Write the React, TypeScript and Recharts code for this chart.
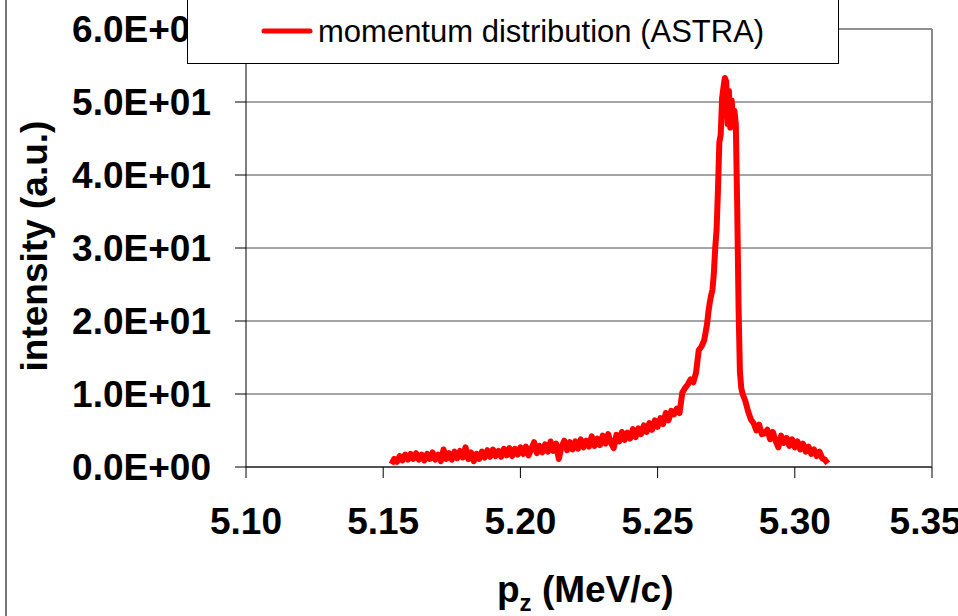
import { LineChart, Line, XAxis, YAxis, CartesianGrid, Legend, ReferenceLine, Label } from 'recharts';

const pz = [
  5.153, 5.154, 5.155, 5.156, 5.157, 5.158, 5.159, 5.16, 5.161, 5.162, 5.163, 5.164, 5.165, 5.166, 5.167, 5.168, 5.169,
  5.17, 5.171, 5.172, 5.173, 5.174, 5.175, 5.176, 5.177, 5.178, 5.179, 5.18, 5.181, 5.182, 5.183, 5.184, 5.185, 5.186,
  5.187, 5.188, 5.189, 5.19, 5.191, 5.192, 5.193, 5.194, 5.195, 5.196, 5.197, 5.198, 5.199, 5.2, 5.201, 5.202, 5.203,
  5.204, 5.205, 5.206, 5.207, 5.208, 5.209, 5.21, 5.211, 5.212, 5.213, 5.214, 5.215, 5.216, 5.217, 5.218, 5.219, 5.22,
  5.221, 5.222, 5.223, 5.224, 5.225, 5.226, 5.227, 5.228, 5.229, 5.23, 5.231, 5.232, 5.233, 5.234, 5.235, 5.236, 5.237,
  5.238, 5.239, 5.24, 5.241, 5.242, 5.243, 5.244, 5.245, 5.246, 5.247, 5.248, 5.249, 5.25, 5.251, 5.252, 5.253, 5.254,
  5.255, 5.256, 5.257, 5.258, 5.259, 5.26, 5.261, 5.262, 5.263, 5.264, 5.265, 5.266, 5.267, 5.268, 5.2685, 5.269,
  5.2695, 5.27, 5.2705, 5.271, 5.2715, 5.272, 5.2725, 5.273, 5.2735, 5.274, 5.2745, 5.275, 5.2755, 5.276, 5.2765, 5.277,
  5.2775, 5.278, 5.2785, 5.279, 5.2795, 5.28, 5.2805, 5.281, 5.282, 5.283, 5.284, 5.285, 5.286, 5.287, 5.288, 5.289,
  5.29, 5.291, 5.292, 5.293, 5.294, 5.295, 5.296, 5.297, 5.298, 5.299, 5.3, 5.301, 5.302, 5.303, 5.304, 5.305, 5.306,
  5.307, 5.308, 5.309, 5.31, 5.311, 5.312,
];

const intensity = [
  0.4, 1.1, 0.7, 1.5, 0.9, 1.7, 1.0, 1.8, 1.1, 1.9, 1.0, 1.7, 0.9, 1.8, 1.1, 2.0, 1.0,
  1.7, 0.8, 2.4, 1.1, 1.9, 1.0, 2.1, 1.2, 2.2, 1.3, 2.7, 1.1, 2.0, 0.8, 1.8, 1.1, 2.1,
  1.3, 2.3, 1.4, 2.4, 1.5, 2.2, 1.4, 2.5, 1.6, 2.6, 1.5, 2.5, 1.7, 2.7, 1.8, 2.8, 1.6,
  2.5, 3.4, 1.9, 2.9, 2.0, 3.1, 2.1, 3.5, 2.2, 3.2, 1.1, 2.8, 3.6, 2.3, 3.4, 2.4, 3.5,
  2.5, 3.8, 2.7, 3.6, 2.8, 4.2, 2.9, 3.9, 3.0, 4.3, 3.2, 4.5, 3.3, 2.6, 4.4, 3.5, 4.8,
  3.7, 4.7, 3.9, 5.2, 4.1, 5.3, 4.5, 5.7, 4.8, 6.0, 5.1, 6.4, 5.5, 6.7, 5.9, 7.4, 6.4,
  7.7, 7.2, 8.0, 7.4, 10.2, 10.8, 11.3, 12.0, 11.6, 12.9, 16.0, 16.5, 17.4, 19.5, 21.2, 22.5,
  23.5, 24.3, 26.5, 30.0, 32.5, 38.0, 44.5, 45.5, 50.5, 52.0, 53.3, 52.8, 47.0, 51.5, 46.5, 50.2,
  47.5, 48.8, 47.0, 36.0, 22.0, 13.0, 10.8, 10.0, 9.0, 7.6, 6.5, 6.0, 5.0, 5.8, 4.5, 4.6,
  5.1, 3.8, 4.8, 3.6, 2.7, 4.3, 3.3, 4.0, 2.9, 3.8, 2.7, 3.5, 2.4, 3.2, 2.1, 2.8, 1.8,
  2.4, 1.5, 2.1, 1.2, 1.0, 0.5,
];

const xTicks = [5.1, 5.15, 5.2, 5.25, 5.3, 5.35];
const yTicks = [0, 10, 20, 30, 40, 50, 60];
const seriesName = 'momentum distribution (ASTRA)';

const data = pz.map((p, i) => ({ pz: p, intensity: intensity[i] }));

const FONT = '"Liberation Sans", Arial, sans-serif';

const sci = (v: number) => {
  if (v === 0) return '0.0E+00';
  const e = Math.floor(Math.log10(Math.abs(v)));
  const m = v / Math.pow(10, e);
  return `${m.toFixed(1)}E${e < 0 ? '-' : '+'}${String(Math.abs(e)).padStart(2, '0')}`;
};

function LegendBox() {
  return (
    <div
      style={{
        width: 652,
        height: 74,
        boxSizing: 'border-box',
        border: '1px solid #000',
        background: '#fff',
      }}
    >
      <svg width={650} height={72}>
        <line x1={76} y1={40} x2={122} y2={40} stroke="#ff0000" strokeWidth={5} strokeLinecap="round" />
        <text x={130} y={51} fontFamily={FONT} fontSize={31} fill="#000">
          {seriesName}
        </text>
      </svg>
    </div>
  );
}

export default function App() {
  return (
    <div style={{ position: 'relative', width: 958, height: 616, overflow: 'hidden', background: '#fff' }}>
      <style>{'body{margin:0}'}</style>
      <div style={{ position: 'absolute', left: 5, top: 0, width: 2, height: 616, background: '#777' }} />
      <LineChart width={958} height={616} data={data} margin={{ top: 29, right: 26, bottom: 0, left: 0 }}>
        <CartesianGrid horizontal vertical={false} stroke="#4a4a4a" />
        <ReferenceLine y={60} stroke="#8a8a8a" strokeWidth={1.5} />
        <ReferenceLine x={5.35} stroke="#8a8a8a" strokeWidth={2} />
        <XAxis
          dataKey="pz"
          type="number"
          domain={[5.1, 5.35]}
          ticks={xTicks}
          allowDataOverflow
          height={149}
          tickSize={11}
          tickMargin={30}
          tickFormatter={(v: number) => v.toFixed(2)}
          stroke="#000"
          tick={{ fill: '#000', fontFamily: FONT, fontSize: 37, fontWeight: 'bold' }}
        >
          <Label
            content={() => (
              <text x={497} y={602} fontFamily={FONT} fontSize={37} fontWeight="bold" fill="#000">
                <tspan>p</tspan>
                <tspan fontSize={24} dy={9}>z</tspan>
                <tspan dy={-9}> (MeV/c)</tspan>
              </text>
            )}
          />
        </XAxis>
        <YAxis
          type="number"
          domain={[0, 60]}
          ticks={yTicks}
          width={246}
          tickSize={11}
          tickMargin={24}
          tickFormatter={sci}
          stroke="#000"
          tick={{ fill: '#000', fontFamily: FONT, fontSize: 37, fontWeight: 'bold' }}
        >
          <Label
            content={() => (
              <text
                x={47}
                y={246}
                transform="rotate(-90, 47, 246)"
                textAnchor="middle"
                fontFamily={FONT}
                fontSize={37}
                fontWeight="bold"
                fill="#000"
              >
                intensity (a.u.)
              </text>
            )}
          />
        </YAxis>
        <Legend
          verticalAlign="middle"
          align="center"
          layout="horizontal"
          content={() => <LegendBox />}
          wrapperStyle={{ position: 'absolute', left: 187, top: -10, width: 652, height: 74 }}
        />
        <Line
          type="linear"
          dataKey="intensity"
          name={seriesName}
          stroke="#ff0000"
          strokeWidth={6}
          dot={false}
          strokeLinejoin="round"
          isAnimationActive={false}
        />
      </LineChart>
    </div>
  );
}
